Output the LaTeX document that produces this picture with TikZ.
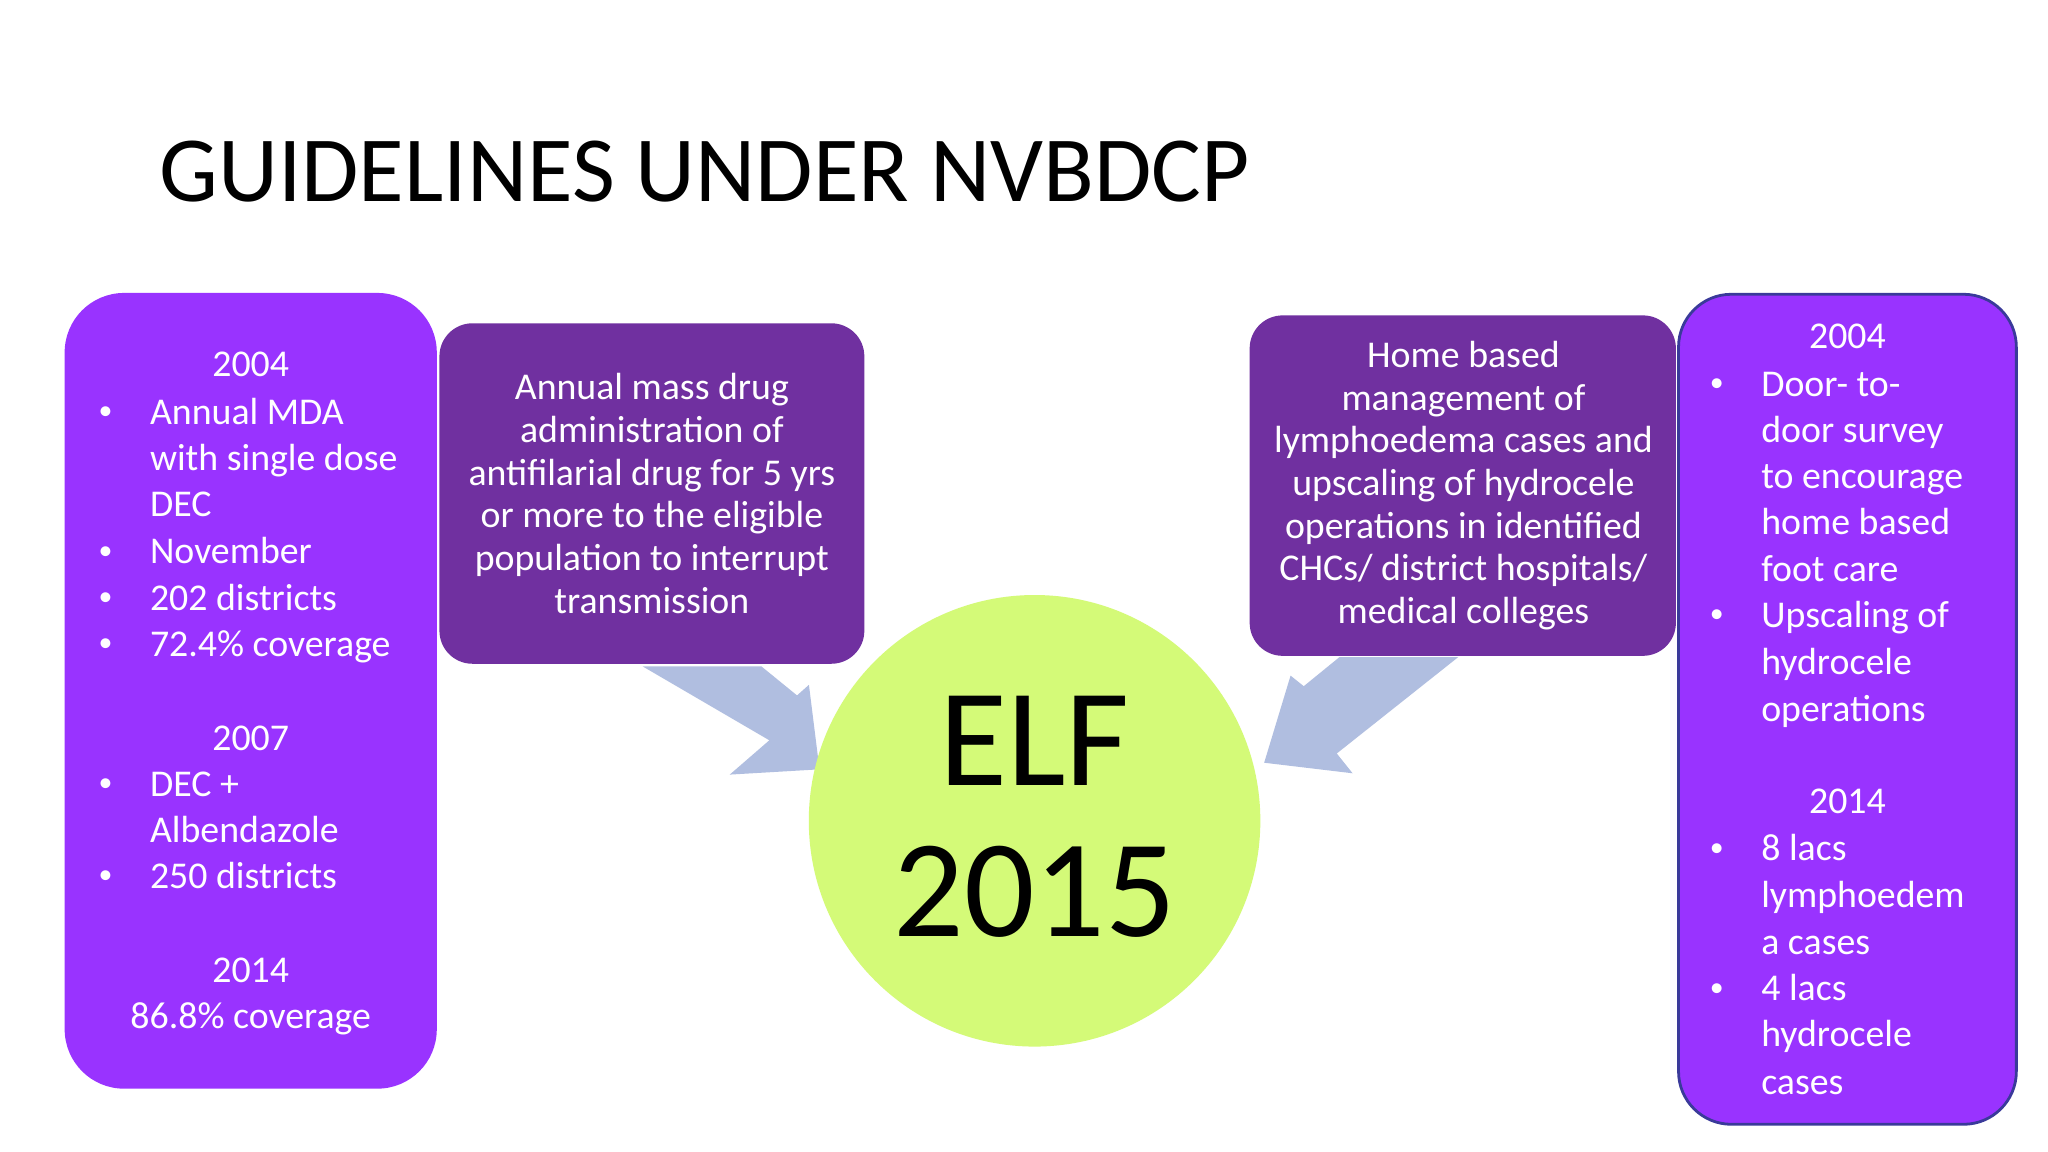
\documentclass[tikz,border=0pt]{standalone}
\usepackage{fontspec}
\setmainfont{Carlito}
\definecolor{vio}{HTML}{9933FF}
\definecolor{dvio}{HTML}{7030A0}
\definecolor{lime}{HTML}{D4FA78}
\definecolor{arr}{HTML}{B0BEE0}
\definecolor{edgeb}{HTML}{3A3A9A}
\begin{document}
\begin{tikzpicture}[x=0.01cm,y=-0.01cm,
  txt/.style={text=white,font=\fontsize{8.15}{10}\selectfont,inner sep=0pt},
  ln/.style={txt,anchor=mid west},
  cl/.style={txt,anchor=mid},
  bul/.style={text=white,inner sep=0pt,anchor=center,font=\fontsize{6}{6}\selectfont},
  mid/.style={text=white,font=\fontsize{8.15}{9.2}\selectfont,align=center,inner sep=0pt}]
\useasboundingbox (0,0) rectangle (1552,873);
\fill[white] (0,0) rectangle (1552,873);
\node[anchor=base west,inner sep=0pt,font=\fontsize{20.1}{24}\selectfont] (title) at (120,153) {GUIDELINES UNDER NVBDCP};
% arrows
\fill[arr] (487,505) -- (577,505) -- (604,527) -- (613,519) -- (621,583) -- (553,587) -- (583,561) -- cycle;
\fill[arr] (1105,498) -- (1015,498) -- (988,520) -- (978,512) -- (958,578) -- (1025,586) -- (1013,571) -- cycle;
% boxes
\fill[vio,rounded corners=0.45cm] (49,222) rectangle (331,825);
\fill[dvio,rounded corners=0.25cm] (333,245) rectangle (655,503);
\fill[dvio,rounded corners=0.25cm] (947,239) rectangle (1270,497);
\filldraw[fill=vio,draw=edgeb,line width=0.6pt,rounded corners=0.4cm] (1272,223) rectangle (1528,852);
\node[circle,fill=lime,minimum size=3.42cm,inner sep=0pt] (elf) at (784,622) {};
\node[inner sep=0pt,font=\fontsize{30}{32}\selectfont,anchor=base] (elf1) at (784,595) {ELF};
\node[inner sep=0pt,font=\fontsize{30}{32}\selectfont,anchor=base] (elf2) at (784,710) {2015};
% middle boxes text
\node[mid] (m1) at (494,374) {Annual mass drug\\administration of\\antifilarial drug for 5 yrs\\or more to the eligible\\population to interrupt\\transmission};
\node[mid] (m2) at (1109,368) {Home based\\management of\\lymphoedema cases and\\upscaling of hydrocele\\operations in identified\\CHCs/ district hospitals/\\medical colleges};
% left box
\node[cl] (l1) at (190,277) {2004};
\node[ln] (l2) at (113,313) {Annual MDA};
\node[ln] (l3) at (113,348) {with single dose};
\node[ln] (l4) at (113,383) {DEC};
\node[ln] (l5) at (113,419) {November};
\node[ln] (l6) at (113,454) {202 districts};
\node[ln] (l7) at (113,489) {72.4\% coverage};
\node[cl] (l8) at (190,560) {2007};
\node[ln] (l9) at (113,595) {DEC +};
\node[ln] (l10) at (113,630) {Albendazole};
\node[ln] (l11) at (113,665) {250 districts};
\node[cl] (l12) at (190,736) {2014};
\node[cl] (l13) at (190,771) {86.8\% coverage};
\foreach \y [count=\i] in {313,419,454,489,595,665} \node[bul] (lb\i) at (80,\y) {•};
% right box
\node[cl] (r1) at (1400,256) {2004};
\node[ln] (r2) at (1334,292) {Door- to-};
\node[ln] (r3) at (1334,327) {door survey};
\node[ln] (r4) at (1334,362) {to encourage};
\node[ln] (r5) at (1334,397) {home based};
\node[ln] (r6) at (1334,432) {foot care};
\node[ln] (r7) at (1334,467) {Upscaling of};
\node[ln] (r8) at (1334,503) {hydrocele};
\node[ln] (r9) at (1334,538) {operations};
\node[cl] (r10) at (1400,608) {2014};
\node[ln] (r11) at (1334,644) {8 lacs};
\node[ln] (r12) at (1334,679) {lymphoedem};
\node[ln] (r13) at (1334,715) {a cases};
\node[ln] (r14) at (1334,750) {4 lacs};
\node[ln] (r15) at (1334,785) {hydrocele};
\node[ln] (r16) at (1334,821) {cases};
\foreach \y [count=\i] in {292,467,644,750} \node[bul] (rb\i) at (1301,\y) {•};
\end{tikzpicture}
\end{document}
